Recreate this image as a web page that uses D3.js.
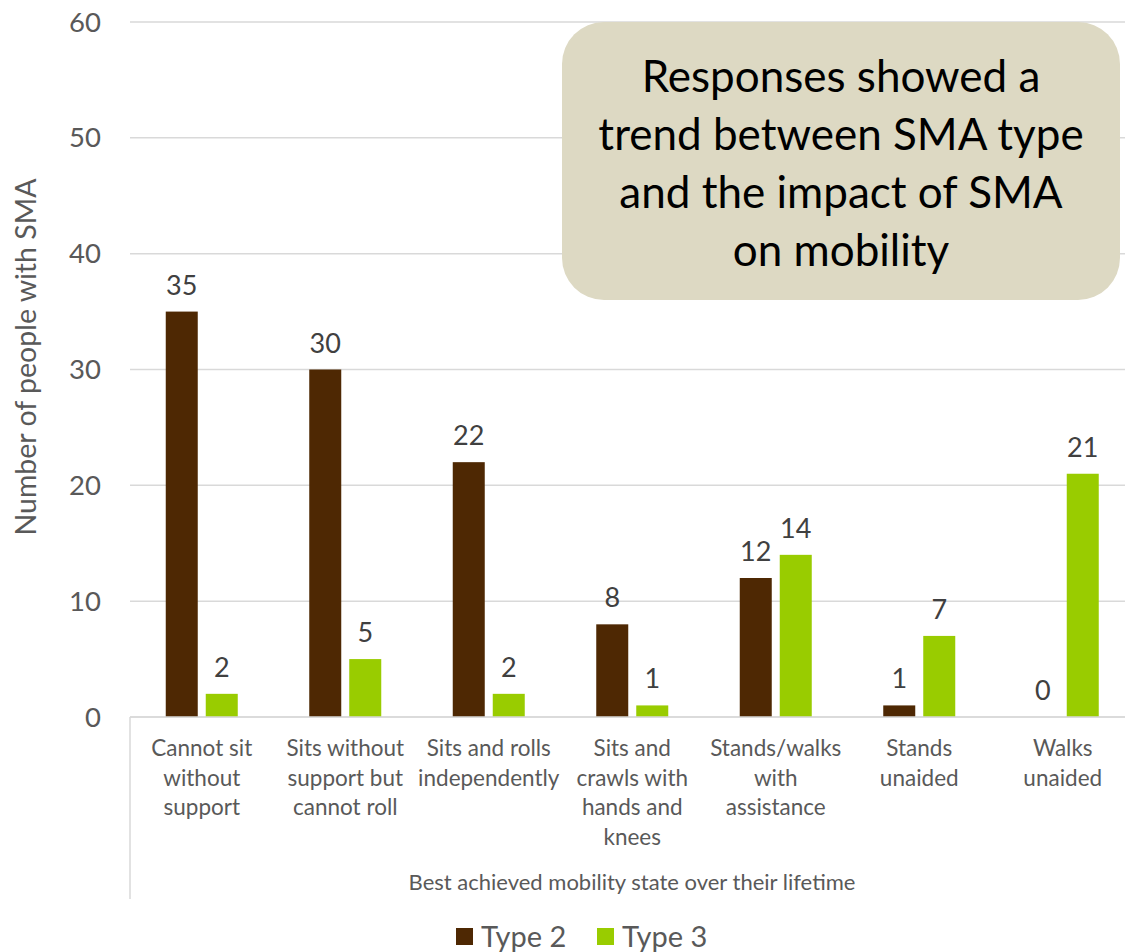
<!DOCTYPE html>
<html>
<head>
<meta charset="utf-8">
<script src="https://cdn.jsdelivr.net/npm/d3@7"></script>
<style>
  html, body { margin: 0; padding: 0; background: #fff; }
  svg { display: block; font-family: Lato, "Open Sans", sans-serif; }
</style>
</head>
<body>
<svg id="chart" width="1125" height="952"></svg>
<script>
// Mobility categories (multi-line labels)
const categories = [
  ["Cannot sit", "without", "support"],
  ["Sits without", "support but", "cannot roll"],
  ["Sits and rolls", "independently"],
  ["Sits and", "crawls with", "hands and", "knees"],
  ["Stands/walks", "with", "assistance"],
  ["Stands", "unaided"],
  ["Walks", "unaided"]
];
const seriesNames = ["Type 2", "Type 3"];
const type2 = [35, 30, 22, 8, 12, 1, 0];
const type3 = [2, 5, 2, 1, 14, 7, 21];
const yTicks = [0, 10, 20, 30, 40, 50, 60];
const calloutLines = [
  "Responses showed a",
  "trend between SMA type",
  "and the impact of SMA",
  "on mobility"
];

const colors = ["#4e2803", "#99cc00"];
const textColor = "#595959";
const svg = d3.select("#chart");

const x0 = 130, x1 = 1134.5, yTop = 22, yBottom = 717;
const x = d3.scaleBand().domain(d3.range(categories.length)).range([x0, x1]).padding(0);
const y = d3.scaleLinear().domain([0, 60]).range([yBottom, yTop]);
const barW = 32, barGap = 8;
const xs = d3.scaleOrdinal().domain([0, 1]).range([-barGap / 2 - barW, barGap / 2]);

// Gridlines
svg.append("g").selectAll("line").data(yTicks).join("line")
  .attr("x1", x0).attr("x2", x1)
  .attr("y1", d => y(d)).attr("y2", d => y(d))
  .attr("stroke", "#d9d9d9").attr("stroke-width", 1.5);

// Y tick labels
svg.append("g").selectAll("text").data(yTicks).join("text")
  .attr("x", 101).attr("y", d => y(d)).attr("dy", "0.35em")
  .attr("text-anchor", "end").attr("fill", textColor)
  .attr("font-size", 27.5).text(d => d);

// Y axis title
svg.append("text")
  .attr("transform", "translate(36,357) rotate(-90)")
  .attr("text-anchor", "middle").attr("fill", textColor)
  .attr("font-size", 28.5).text("Number of people with SMA");

// Left category-axis line extending down past labels
svg.append("line").attr("x1", x0).attr("x2", x0)
  .attr("y1", yBottom).attr("y2", 899)
  .attr("stroke", "#d9d9d9").attr("stroke-width", 1.5);

// Bars
const series = [type2, type3];
series.forEach((vals, si) => {
  const g = svg.append("g");
  g.selectAll("rect").data(vals).join("rect")
    .attr("x", (d, i) => x(i) + x.bandwidth() / 2 + xs(si))
    .attr("y", d => y(d))
    .attr("width", barW)
    .attr("height", d => yBottom - y(d))
    .attr("fill", colors[si]);
  g.selectAll("text").data(vals).join("text")
    .attr("x", (d, i) => x(i) + x.bandwidth() / 2 + xs(si) + barW / 2)
    .attr("y", d => y(d) - 17)
    .attr("text-anchor", "middle").attr("fill", "#404040")
    .attr("font-size", 27).text(d => d);
});

// Redraw baseline over bars
svg.append("line").attr("x1", x0).attr("x2", x1)
  .attr("y1", yBottom).attr("y2", yBottom)
  .attr("stroke", "#d9d9d9").attr("stroke-width", 1.5);

// Category labels
const cat = svg.append("g").selectAll("text").data(categories).join("text")
  .attr("text-anchor", "middle").attr("fill", textColor).attr("font-size", 22.5);
cat.each(function(lines, i) {
  d3.select(this).selectAll("tspan").data(lines).join("tspan")
    .attr("x", x(i) + x.bandwidth() / 2)
    .attr("y", (d, j) => 756 + j * 29.5)
    .text(d => d);
});

// X axis title
svg.append("text").attr("x", 632).attr("y", 890)
  .attr("text-anchor", "middle").attr("fill", textColor)
  .attr("font-size", 22).text("Best achieved mobility state over their lifetime");

// Legend
const legend = svg.append("g");
const legX = [456, 597];
seriesNames.forEach((name, i) => {
  legend.append("rect").attr("x", legX[i]).attr("y", 928)
    .attr("width", 17).attr("height", 17).attr("fill", colors[i]);
  legend.append("text").attr("x", legX[i] + 25).attr("y", 947)
    .attr("fill", textColor).attr("font-size", 29).text(name);
});

// Callout box
svg.append("rect").attr("x", 562).attr("y", 22)
  .attr("width", 558).attr("height", 278)
  .attr("rx", 42).attr("ry", 42).attr("fill", "#ddd9c3");
svg.append("g").selectAll("text").data(calloutLines).join("text")
  .attr("x", 841).attr("y", (d, i) => 92 + i * 58)
  .attr("text-anchor", "middle").attr("fill", "#000")
  .attr("font-size", 44).text(d => d);
</script>
</body>
</html>
